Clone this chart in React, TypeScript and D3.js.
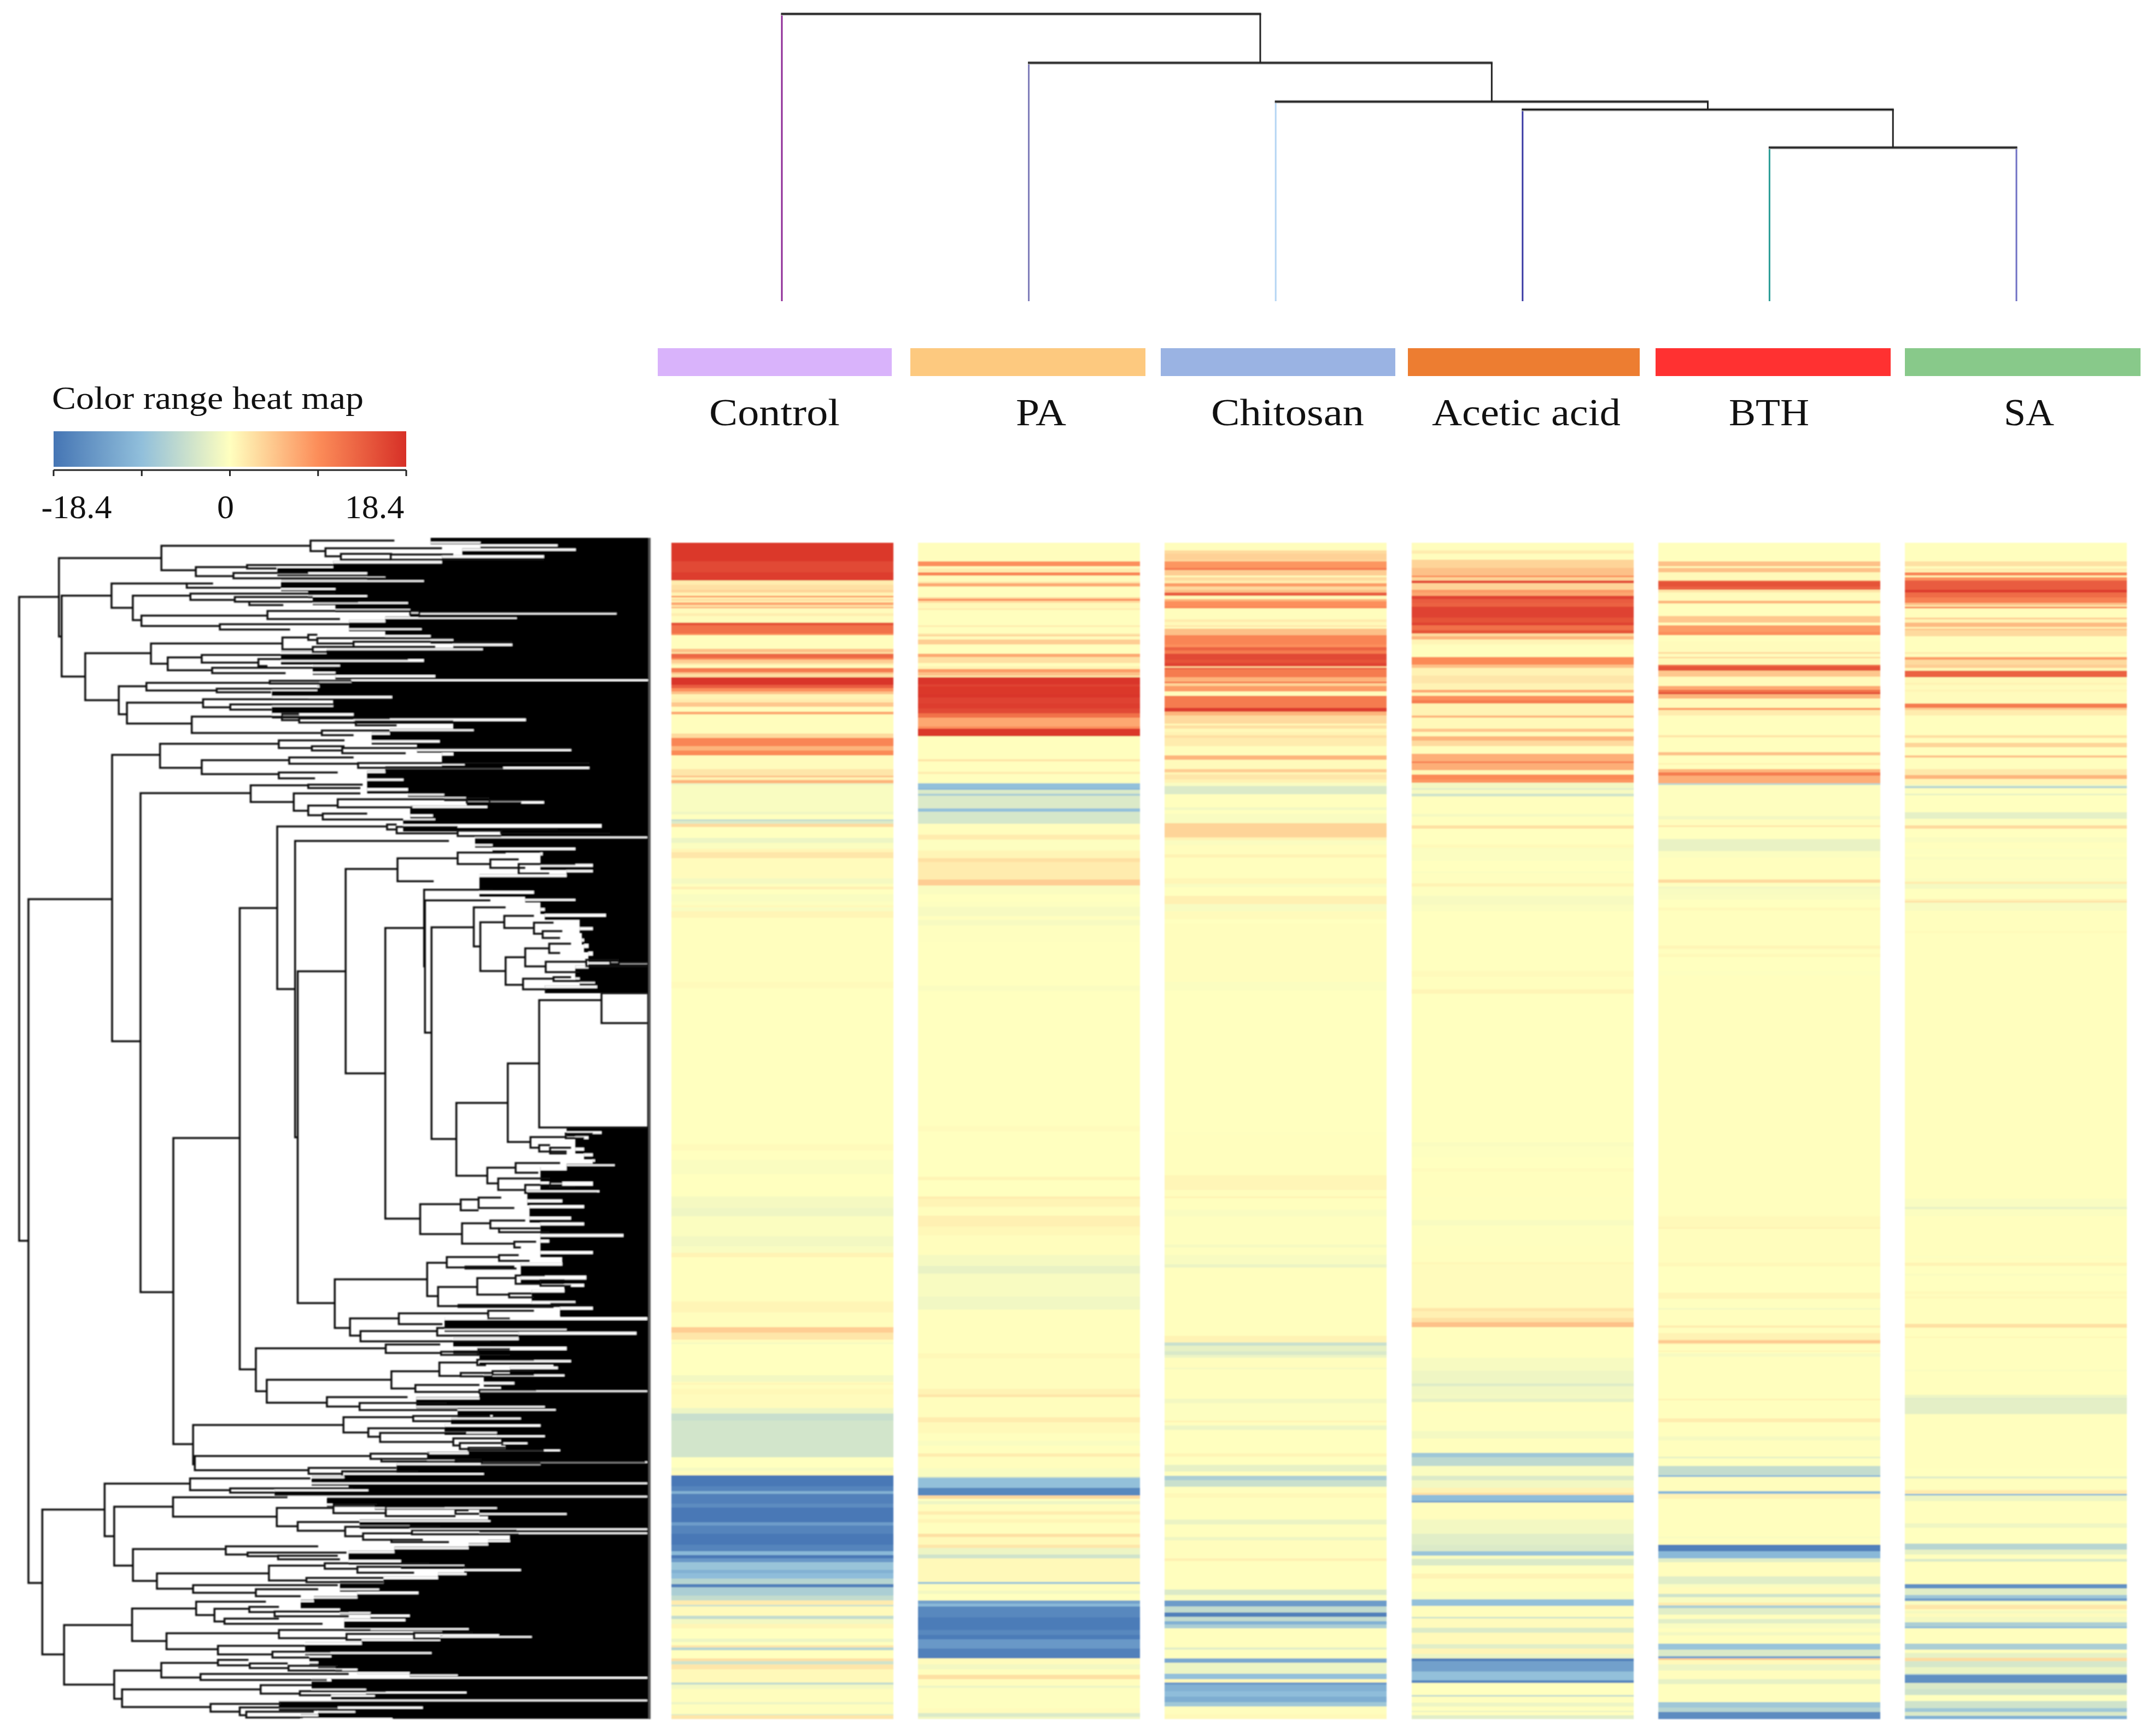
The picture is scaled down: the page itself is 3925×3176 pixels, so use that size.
import React, { useMemo } from "react";
import * as d3 from "d3";

// ---------- Treatments ----------
const treatments = ["Control", "PA", "Chitosan", "Acetic acid", "BTH", "SA"];
const barColors = ["#d9b3fb", "#fdc97f", "#9ab3e3", "#ed7d31", "#ff3131", "#88c98a"];
const barSpans = [[1203, 1631], [1665, 2095], [2123, 2552], [2575, 2999], [3028, 3458], [3484, 3915]];
const labelSpans = [[1297, 239], [1858, 92], [2215, 280], [2619, 345], [3162, 147], [3665, 92]];
const stemColors = ["#8e2a96", "#7d7bb8", "#b5d5f4", "#3b3ba4", "#2a9c96", "#6f70c4"];
const mergeHeights = [525.5, 436, 365, 350.5, 281]; // root first
const legendTicks = [-18.4, -9.2, 0, 9.2, 18.4];
const legendLabels = [-18.4, 0, 18.4];
const heatStops = ["#4575b4", "#91bfdb", "#ffffbf", "#fc8d59", "#d73027"];
const ROWS = 753;

// ---------- Heat map values: [first row of band, value] ----------
const controlBands: number[][] = [
[0,17.5],[12,16],[19,17],[24,1.5],[27,2.5],[30,3.5],[32,1],[34,8],[35,1],[36,3],[37,1],[38,7],[40,2],[41,5.5],[42,0.3],[45,1.5],[47,0.3],[51,15],[53,12],[58,9],[59,0.2],[68,5],[70,2.5],[71,13],[74,9],[75,4],[77,2],[78,0.3],[80,11],[83,5],[84,2.5],[86,18],[91,14],[93,9],[95,5],[97,1],[100,1.5],[102,4.5],[105,0.2],[108,7],[110,0.2],[122,3],[125,10],[130,6],[133,9.5],[136,0.3],[145,2],[149,5],[150,1],[152,6],[154,-1.5],[155,-0.5],[172,-1.2],[174,0],[177,-5],[178,-3],[180,3],[182,0],
[189,-1.5],[192,-0.3],[196,0.8],[198,2],[202,0.3],[215,-0.8],[218.5,0.1],[220,1.2],[222,0],[225,-0.5],[230,-0.2],[232,0.5],[233.5,-0.5],[236,0.8],[240,0.1],[281,0.4],[285,0],
[385,0.4],[389,0],[395,-0.4],[404,0],[418.5,-0.8],[426,-1.3],[431,-0.3],[444,-1],[450.5,-0.5],[454.6,1],[457.5,0.1],[485.5,0.8],[492.5,0.2],[502,4],[505.5,2],[510,0.2],[512,-0.8],[513,0],[533,-1],[537,0.3],[538,1],[539,0.2],[541.5,0.6],[545,0.3],
[554,-1.5],[557.5,-4.6],[562,-3.8],[585.5,0],[592,-0.8],[594,0.3],[597,-18],[604,-16.5],[607,-11],[609,-17],[615,-15.5],[617.6,-18],[627,-13.5],[629,-16.5],[634.5,-18],[641.5,-16.5],[645.6,-10],[648,-18],[650,-14],[652.6,-8.5],[657.5,-11],[659.6,-9.5],[663,-6],[666.5,-17],[668.7,-7],[674,-5],[677,1.5],[680,-4.5],[681,0.4],[687,-5],[689,-1],[692,0.8],[695,0],[701.5,-1.5],[703.6,0],[705.7,2],[707,-6],[709,0],[714,2.5],[716,-4],[718,2],[721,0.5],[729.5,-5],[731,-1],[733.6,0.2],[742,-1.5],[743.5,0.1],[749.7,-3],[750.7,2],
];
const paBands: number[][] = [
[0,0.2],[12,9],[15,0.3],[16.5,1.5],[18.5,0.3],[19,10],[21,0.3],[25,2],[26,7],[28,0.1],[35,4],[36,10],[37,3],[38.5,0.5],[42,1.5],[43,0.1],[53,1.5],[54,0.1],[58,2],[59,4],[60,0.3],[62,4],[65,0.1],[71,7],[73,2.5],[77,0.2],[79,1],[81,8],[83,5],[85,2],[86,18],[90.5,16.5],[92,17.5],[97,17.8],[99,16.5],[103,17],[106,16],[109,12],[112,7],[117.5,9],[119,17.5],[124,0.1],[138.5,2],[140,0.1],[146.5,1.5],[148,0.1],[152.5,-0.3],[154,-9],[157,-10],[158,-3],[160.7,-7],[162,-3],[170,-9],[172,-3.5],[180,0.2],
[187,1.5],[190,-0.2],[197,0.8],[202,2.5],[204.5,1.5],[215.5,4],[219.5,-0.4],[225,0],[230,-0.2],[233,-0.7],[239,0.1],[241.5,-0.7],[245,-0.1],[256,0],[283.5,-0.4],[287,0],
[373.5,0.3],[377,0],[406,0.9],[408,0],[418.5,1.5],[420,0.9],[425,0.2],[430.7,1.2],[437.7,0.6],[443.5,0.2],[456,-0.8],[463,-1.8],[468,-0.6],[482.6,-1.2],[491,0.1],[519,0.6],[522,0.2],[541.5,1],[545,2],
[547,0.2],[559.7,1.5],[563,0.5],[570,0.1],[575,-0.5],[578,0.1],[583,1.5],[585,0.2],[592.5,-0.5],[598,-5],[598.8,-9],[605,-16],[610,3],[612,0],[613.5,-1.5],[615.6,0.2],[620,1.5],[622,0.2],[625,0.8],[627.5,0.1],[634.5,2.5],[636.5,0.5],[641.4,2],[643.5,-1.5],[647.7,-4],[650,0.5],[665,-8],[666.5,0.2],[670.7,-1],[673,0],[677,-13],[679,-10],[681,-16],[688,-17.5],[696,-16],[699,-17.5],[702,-14],[708,-17],[714,0.3],[718,-1],[721,0.1],[724.6,2.5],[727.3,0.2],[731.5,-1.5],[733,-0.1],[746,0.3],[749,-3],[751.5,-1],
];
const chitosanBands: number[][] = [
[0,0.2],[5,3],[7,3.7],[11,3],[12,8.5],[16,11],[17.5,4],[21,0.3],[22,3],[24,1.5],[26,8],[28,3],[30,5],[32,14],[34,0.3],[36,6],[37.5,9],[41,10],[42,0.2],[49,1.5],[50.6,0.5],[53,2],[54,0.2],[55,5],[59,10],[65,9],[67,13.5],[69,11],[71,16],[75,15],[77,16.5],[79,4],[80,16],[81,11],[86,6],[89,11],[90,3.5],[91.6,8],[95,0.2],[98,11],[105.6,17],[108,6],[110.7,3],[115.7,0.5],[117,2.5],[119,0.5],[121,1],[123,2.5],[125,1.5],[130,0.2],[136,6],[139,0.4],[145,4],[147,0.8],[148.5,2],[151.6,1],[153.7,-0.5],[155.7,-3],[161,0.1],[169.5,-1],[171,0],[173.5,-0.5],[179.5,3.5],
[188.5,1],[190.4,-0.4],[193.5,0.2],[199.5,1],[201.6,0.1],[215,0.7],[218.5,-0.5],[220.4,0],[226,1.2],[231.4,-0.6],[236,0.4],[241,0],[243.5,0.15],[281,-0.3],[286.6,0],
[377,-0.1],[379.3,0.1],[405,0.7],[414.3,0.2],[418.4,1],[419.6,0.1],[427,-0.5],[431,-0.1],[449.4,-0.8],[451,-0.1],[456,-0.6],[462,-1.6],[464,0.1],[507.7,1],[512,-4.5],[514,-2],[517.6,-3.2],[520,-1.5],[521.7,0.2],[528,-0.8],[529,0.1],
[548,-1],[550.6,-0.2],[562,1],[563,0.1],[565,-1.5],[568,0],[583,0.8],[585,0],[590.4,-2],[594.6,0.1],[597.4,-7],[600,-4.5],[604.4,0.1],[608.6,0.6],[611.4,0.1],[625.3,-1.7],[628.4,0.1],[636.5,-1.3],[638.6,0.2],[650,1.2],[652,0.1],[670,-3],[673.5,-0.3],[677,-13.5],[681,-5],[684.7,-17],[687.5,-5],[690.3,-11],[692.5,-7],[695,0.1],[707,-2.5],[708.5,-0.1],[714.3,-12],[717,-1.5],[724,-9],[727.3,0.5],[729.4,-14],[731,-11],[735,-9.5],[738.5,-11.5],[742,-8],[745,0.2],[749.7,0.5],
];
const aceticBands: number[][] = [
[0,0.2],[5,1.5],[7,0.2],[11,3.5],[16,5],[21,9],[22,3.5],[24,15.5],[26,3.5],[30,8],[32,7],[34,16.5],[36,14],[38.5,13.5],[41,16.5],[48,15],[51,16.5],[53,12],[56,15],[58,3],[60,6],[62,0.8],[65,0.1],[73,9.5],[78,5],[80,1],[85,2],[90,1],[94,7],[96,0.8],[98,9],[100.7,11],[103,1],[110.7,6],[112,0.5],[119,4.5],[121,0.3],[124,6],[126.6,3],[130,0.2],[135,6.5],[140,10.5],[141,6.5],[145.4,0.5],[148.5,9.5],[151.6,8.5],[153.7,-1],[157,-2.5],[158,-0.7],[160.7,-4],[162.5,0.1],[173.5,-0.8],[175.4,0.1],[181,2.5],
[183,0],[193,0.5],[195.4,-0.3],[203.5,0],[210.4,-0.3],[211.6,-0.1],[218,1],[220,-0.1],[226,-0.7],[231.6,-0.3],[236,0],[274,0.4],[278,0.1],[286,0.8],[288.5,0],
[384,-0.4],[386.4,-0.2],[393.3,0],[400.3,0.3],[402.7,0.1],[418.4,-0.1],[421.4,0.1],[433.6,-0.6],[437,-0.1],[450.5,0.1],[460.4,0.6],[462,0.3],[490,2],[492,1.2],[496,2.5],[499,5],[502,0.1],[521.7,-0.7],[530,-1.3],[538,-2.8],[540,-1.2],[545,-1],[548,-2],[550,0.1],[555.5,-0.1],
[568.7,-0.9],[573.6,0.1],[582.7,-8],[585.5,-5.5],[591,-0.4],[597.4,-3],[600,-1],[605,1],[608,2.5],[609.5,-9.5],[613.5,-13],[614.6,0.2],[625.3,-1],[634.4,-2.5],[641.4,-3],[645.6,-8.5],[648.4,-0.5],[650.5,-3],[654.7,0],[660,1],[663,0.1],[671.5,-0.5],[676.3,-9],[680.5,0.2],[687.5,-4],[688.6,0.3],[694.5,-3],[697.6,0.5],[705,-2.5],[707.8,0.8],[711.3,-1.5],[714.3,-17],[716,-13],[722.4,-9],[728.3,-16],[730,0],[737.5,-5],[738.5,0.1],[742.5,-1.5],[744.8,0],[747.6,-2],[748.6,0.1],[750.4,-2.5],
];
const bthBands: number[][] = [
[0,0.1],[12,5],[15,0.3],[16,5],[19,0.5],[24,12],[25,15],[28,13.5],[30,2],[32,0.3],[37,6],[39,0.1],[47,4.5],[51,0.3],[53,8],[57,9],[59,0.1],[63,0.3],[70,3],[71,0.3],[73,4],[74,0.5],[78,12],[79,15],[82,4.5],[85.7,0.3],[91.6,7],[94,12],[96,16],[97,6],[99.7,0.4],[105.7,8],[107,1.5],[110.7,0.1],[123,2],[124.5,0.1],[134,5],[136,0.1],[141,1],[142,0.1],[145,6],[147,11],[149,6.5],[154,-6],[155,-0.1],[175,-1],[177,0.2],[181,2],[182,0],
[189.5,-1.8],[197.5,-0.3],[201.6,0.1],[215.4,3],[217.5,-0.2],[220,-1],[221.6,-0.6],[225.4,-0.4],[228.5,0],[233.5,0.5],[235.4,0.1],[258,0.8],[260,0.1],[263,0.5],[265.4,0],[274,-0.2],[277,0.05],
[431,0.5],[438,1],[439,0.2],[461,0.6],[463.3,0],[480,0.8],[484,-0.1],[490,-1],[491,0.1],[501,1.5],[502.5,0.1],[506,1],[510,3],[511,4.5],[512.3,2],[513,0.1],[517,1],[518,0.1],[519,-0.7],[521,0.1],
[548,1],[549,0.1],[560.4,1.5],[563,0.1],[572,-0.8],[574.6,0.1],[585,-2],[586,0],[591,-5],[597,-10],[598,0.2],[607,-10],[609,1],[612,0.1],[636,-0.5],[637.2,0.1],[641.4,-17],[645.6,-10],[650,-2.5],[652.6,0.2],[661.7,-2.5],[666.6,-0.5],[668.7,0.3],[673,-4],[675,-0.5],[678.4,1.5],[680.3,-7],[682,-2.5],[686,0.1],[689,-2.5],[691.7,-0.5],[695,0.1],[697.3,-1],[699.4,0.1],[704.6,-8.5],[708.5,-3],[712.7,-13],[714,4],[715.2,0.5],[718,-1.5],[721.7,0.2],[727.3,-2],[730.6,0.1],[742.3,-8],[745.5,-6],[748.3,-15.5],
];
const saBands: number[][] = [
[0,0.1],[12,2.5],[15,0.2],[16.5,1.5],[18.3,0.2],[19,10],[21,0.5],[22,9],[24,14],[30,17],[32,12.5],[35,10.5],[38.5,5],[40,2],[41,10],[42,0.2],[48,4],[49,1],[51,5.5],[54,1],[55,4.5],[56,3],[60,0.1],[70,1.5],[71,0.3],[73,8],[75,3],[78,4],[80,0.6],[82,13.5],[86,0.5],[89.6,1],[91,0.3],[94,1],[95,0.3],[103,11],[105.7,4],[107,1.5],[110.7,0.1],[123,2.5],[125,0.1],[128,3.5],[131,0.1],[136,5],[137.5,0.1],[145,1.8],[148.7,6],[151,0.8],[154.5,-1],[155.7,-6],[157,-0.1],[160.7,-2],[161.7,0],[172.5,-2.2],[176.6,-0.1],[181,3],
[183,0],[188.5,-0.4],[191.6,0.1],[196,-0.2],[199.8,0],[201,-0.4],[203,-0.1],[215,-0.3],[217,1.5],[218.5,-0.8],[221.6,0],[228,1.2],[229.5,3],[230.4,-0.6],[235.4,0.1],[248.5,0.4],[250,0.05],
[396,0.1],[407.3,0.05],[420,-0.5],[425,-1.8],[426.6,-0.3],[431,0.05],[456.3,-0.2],[458,0.05],[461,1],[463,0],[468,-0.4],[469.2,0],[479,0.5],[481,0.05],[482,0.5],[484,0.05],[500,2.5],[502.5,0.1],[508,0.6],[509,0.1],[529.3,-0.4],[530.5,0.1],[545.6,-1.5],[547.5,-3.5],
[548,-2.3],[557.6,0.1],[592.5,0],[597.8,-2.5],[599,0.1],[606.5,1.5],[608.7,-10],[610,-1.5],[613.5,0.1],[627.7,-1.3],[630.5,0],[640.7,-6],[644.5,-2],[647.7,0.1],[650.5,-3],[652.3,0.1],[666.6,-15],[669.4,-2.5],[673.5,-8],[675.6,-13],[677.4,-0.5],[680,2],[682.6,0.2],[683.6,-0.8],[685.4,0.3],[687.5,-0.8],[691,-7],[693.8,-10],[695,0.1],[704.6,-7],[708.5,0.1],[710.6,-2],[713.8,2.8],[716,-3.5],[719.7,-1.5],[724,-6],[724.5,-15],[730,-3],[733.6,-4],[737.5,0],[741.3,-4],[746,-8],[748.3,-3],[751,-11],
];
const columns = [controlBands, paBands, chitosanBands, aceticBands, bthBands, saBands];

// ---------- Row dendrogram: [stem position, top rank, top child position, bottom rank, bottom child position] ----------
const trunkBrackets: number[][] = [
[35,1092,108,2270,52],[52,1645,205,2896,77],[205,1381,293,1905,257],[257,1451,458,2364,317],[317,2082,438,2642,353],
];
const upperBrackets: number[][] = [
[130,660,356,885,136],[136,768,246,1000,188],[356,625,685,695,432],[685,610,870,640,718],[718,632,975,655,752],[752,648,865,665,862],[862,650,1000,665,1200],
[432,686,545,712,515],[545,680,735,690,610],[515,703,680,718,850],[246,733,412,803,293],[412,733,470,745,620],[293,768,420,838,312],[420,762,740,780,518],[518,772,690,785,550],[550,785,790,795,625],
[312,825,590,855,485],[590,812,905,835,750],[905,812,925,822,925],[925,815,1360,828,1140],[485,850,770,865,640],
[188,933,333,1068,262],[333,905,623,963,370],[623,888,680,922,690],[680,880,700,895,700],[700,890,1000,905,780],[690,915,780,930,720],[780,900,1130,915,960],[370,945,445,982,468],[445,938,690,960,570],[570,950,900,970,590],[468,975,740,990,630],
[262,1028,323,1108,280],[323,1018,595,1040,478],[595,1012,775,1020,775],[478,1035,700,1045,598],[280,1075,448,1135,423],[448,1065,680,1088,508],[508,1080,735,1095,600],[423,1115,622,1162,710],[622,1108,660,1125,660],[660,1120,860,1132,785],[785,1128,1000,1140,875],[710,1155,860,1168,780],
[353,1193,615,1262,445],[615,1183,760,1205,688],[688,1200,760,1212,755],[755,1205,1260,1220,895],[445,1240,638,1280,615],[638,1232,780,1250,790],[790,1248,1300,1262,1110],[615,1275,745,1292,695],
[553,1312,680,1360,648],[680,1310,800,1320,795],[648,1335,795,1385,680],[680,1370,745,1398,712],[745,1352,1030,1375,910],[1030,1348,1080,1362,1080],[1080,1355,1200,1362,1150],[712,1393,810,1410,890],
];
const middleBrackets: number[][] = [
[550,230,636,1433,587],[636,17,888,441,677],[888,12,910,25,910],[910,18,1050,35,1050],[1050,28,1150,42,1150],[1150,25,1280,35,1400],
[677,55,1030,828,683],[683,395,793,1260,768],[793,128,912,661,884],[912,100,1050,160,995],[1050,85,1160,115,1125],[1125,103,1190,125,1205],[1190,115,1320,140,1260],
[884,282,973,1040,964],[973,182,1130,382,975],[975,210,1125,555,990],[990,280,1087,832,1047],
[1087,228,1160,330,1102],[1102,267,1157,394,1160],[1157,250,1225,282,1225],[1225,268,1270,297,1245],[1245,290,1290,308,1285],[1160,358,1205,430,1200],[1205,335,1260,382,1252],[1260,323,1310,347,1285],[1252,370,1345,397,1330],[1345,365,1400,382,1485],[1400,365,1420,375,1420],[1420,372,1485,380,1485],[1200,414,1270,442,1255],[1270,410,1310,420,1365],
[1047,738,1165,928,1118],[1165,635,1237,840,1217],[1237,470,1380,802,1485],[1380,452,1485,530,1485],[1217,827,1298,855,1237],[1298,818,1360,830,1340],[1237,848,1262,865,1300],[1262,855,1310,870,1300],[1118,907,1183,948,1143],[1183,895,1285,920,1235],[1143,935,1262,965,1205],[1205,952,1290,973,1370],[1262,945,1290,957,1320],
[964,1002,1057,1080,1060],[1057,990,1098,1018,1098],[1098,985,1150,1012,1180],[1060,1052,1125,1105,1180],[1125,1045,1205,1065,1145],[1145,1065,1240,1075,1260],[1180,1100,1230,1115,1195],
[768,1198,980,1325,803],[980,1155,1025,1242,1005],[1025,1140,1145,1167,1068],[1145,1135,1190,1150,1215],[1068,1165,1180,1170,1185],[1005,1218,1095,1268,1052],[1095,1195,1183,1238,1168],[1183,1188,1250,1210,1240],[1240,1200,1295,1215,1310],[1168,1235,1220,1245,1225],[1052,1265,1265,1270,1270],[1265,1262,1320,1267,1360],
[803,1300,915,1345,827],[915,1287,1120,1315,1015],[1120,1280,1225,1300,1170],[827,1333,1003,1360,1125],[1003,1325,1300,1345,1190],
[587,1378,885,1490,612],[885,1368,1010,1390,1012],[1012,1387,1097,1395,1097],[1097,1380,1170,1395,1170],[612,1460,898,1520,750],[898,1438,1008,1483,953],[1008,1415,1095,1450,1057],[1095,1408,1225,1422,1115],
];
const lowerBrackets: number[][] = [
[1057,27,1130,42,1130],[1130,20,1225,35,1225],[953,78,1100,108,1100],[1100,100,1230,112,1485],[750,130,935,170,825],[825,155,1025,185,1050],
[443,248,788,415,447],[788,215,948,280,845],[948,210,1125,232,1035],[845,262,1020,298,872],[872,282,1070,320,1040],[1040,305,1150,335,1055],[1055,325,1155,350,1075],[1075,345,1160,355,1248],
[447,380,850,440,708],[850,370,985,392,875],[875,392,1045,403,1105],[1045,395,1105,405,1105],[1105,403,1480,412,1240],[708,430,910,455,785],[785,445,960,462,785],
[97,607,240,1222,147],[240,497,436,720,262],[436,475,712,525,528],[528,517,810,535,630],
[262,595,397,845,305],[397,555,660,637,635],[635,600,765,678,683],[765,585,865,622,885],[885,595,1020,635,1045],[1045,610,1075,625,1100],[683,660,825,697,792],[792,680,1010,720,833],[833,708,945,735,898],[945,695,1185,712,1190],[898,735,970,745,1030],
[305,775,518,910,360],[518,763,730,798,568],[568,790,795,805,638],[638,803,775,818,780],
[360,878,617,943,443],[617,845,745,908,703],[745,835,985,858,820],[820,850,1070,875,950],[703,897,880,915,880],[443,928,775,960,587],[587,945,730,975,690],
[147,1097,303,1350,262],[303,1027,450,1165,382],[450,998,610,1055,492],[492,1028,572,1082,515],[572,1020,640,1042,630],[630,1040,800,1060,800],[515,1070,640,1092,740],[382,1132,640,1200,500],[640,1118,850,1153,795],[795,1135,950,1160,830],[950,1130,1085,1155,1010],[500,1185,705,1222,625],[625,1210,758,1235,710],
[262,1290,370,1410,280],[370,1258,500,1320,460],[500,1245,570,1268,573],[573,1260,660,1280,662],[662,1270,775,1290,785],[460,1305,800,1330,750],
[280,1370,598,1445,483],[598,1352,715,1388,688],[688,1378,885,1395,760],[483,1432,645,1465,550],[550,1447,775,1480,565],[565,1465,720,1490,695],
];

// Where the dense leaf mass begins: [rank, position]
const upperEdge: number[][] = [
[602,950],[612,1060],[620,1230],[632,1270],[645,1020],[652,1200],[668,975],[682,735],[690,612],[700,810],[712,850],[722,935],[730,620],[745,740],[755,680],[765,810],[775,690],[785,900],[795,740],[805,905],[815,1360],[828,1140],[838,850],[850,770],[860,930],[870,850],[880,950],[892,1000],[905,1130],[918,1065],[928,720],[940,620],[950,935],[965,750],[975,690],[985,740],[995,960],[1008,1430],[1013,775],[1025,705],[1035,700],[1045,600],[1055,865],[1068,735],[1080,735],[1092,600],[1105,780],[1120,1160],[1135,1000],[1150,1045],[1160,860],[1172,820],[1182,970],[1195,920],[1207,1260],[1218,1000],[1235,975],[1248,1025],[1258,1300],[1270,850],[1282,810],[1292,890],[1305,810],[1320,900],[1335,980],[1345,1030],[1357,1200],[1370,1075],[1382,905],[1395,955],[1408,960],
];
const middleEdge: number[][] = [
[0,925],[12,1380],[30,1150],[42,1485],[50,1090],[62,1130],[72,1320],[85,1245],[100,1240],[115,1360],[130,1360],[142,1300],[155,1100],[185,1225],[200,1205],[205,1320],[215,1240],[230,1250],[245,1390],[260,1330],[280,1360],[295,1335],[310,1340],[325,1350],[345,1360],[370,1485],[380,1350],[395,1320],[410,1330],[420,1365],[432,1370],[445,1250],[452,1485],[800,1300],[812,1380],[825,1350],[840,1320],[855,1340],[870,1360],[885,1365],[897,1410],[905,1300],[925,1240],[945,1360],[965,1375],[975,1210],[990,1290],[1005,1340],[1020,1215],[1035,1310],[1050,1340],[1065,1240],[1080,1430],[1095,1260],[1110,1240],[1125,1360],[1140,1290],[1155,1290],[1170,1195],[1190,1345],[1210,1340],[1225,1295],[1240,1220],[1255,1320],[1270,1360],[1285,1285],[1297,1485],[1312,1020],[1325,1300],[1335,1460],[1350,1190],[1362,1040],[1375,1300],[1392,1100],[1408,1310],[1420,1270],
];
const lowerEdge: number[][] = [
[0,1280],[20,1170],[32,1295],[48,1110],[65,1180],[85,1150],[100,1485],[118,1100],[130,1100],[145,955],[165,1250],[178,1275],[190,1050],[205,1130],[215,1195],[230,1035],[245,1240],[265,1020],[275,1140],[290,1250],[305,1150],[320,1210],[335,1160],[350,1285],[362,1075],[380,980],[395,1050],[403,1485],[409,1240],[425,910],[450,1110],[465,790],[480,715],[490,1485],[505,800],[520,845],[535,630],[550,1485],[554,750],[580,860],[595,1140],[608,1100],[620,1300],[635,1120],[650,1125],[662,825],[672,940],[688,1485],[693,1100],[705,1485],[710,1170],[735,1170],[750,1120],[765,1075],[782,905],[800,800],[820,920],[840,1065],[858,1195],[875,1070],[892,1005],[910,880],[928,780],[940,870],[955,960],[975,820],[990,720],[1005,690],[1025,780],[1040,850],[1052,940],[1070,930],[1090,790],[1108,1075],[1122,1015],[1138,1145],[1142,1220],[1155,1010],[1170,830],[1190,700],[1210,990],[1225,760],[1240,710],[1250,730],[1265,770],[1280,820],[1295,940],[1305,1050],[1318,1485],[1324,760],[1350,715],[1365,840],[1378,1070],[1392,860],[1405,760],[1415,1485],[1420,640],[1442,970],[1460,815],[1475,730],[1490,690],[1495,900],
];

const W = 3925, H = 3176;
const serif = "'Liberation Serif', serif";

const color = d3.scaleLinear<string>().domain(legendTicks).range(heatStops).interpolate(d3.interpolateRgb);
const rowY = d3.scaleLinear().domain([0, ROWS]).range([993, 3145]);
const colX = d3.scaleBand<number>().domain(d3.range(6)).range([1228, 3890]).paddingInner(0.1002).paddingOuter(0);
const leafX = d3.scalePoint<string>().domain(treatments).range([1430, 3688]);
const treeY = d3.scaleLinear().domain([0, 551]).range([551, 0]);
const legendX = d3.scaleLinear().domain([-18.4, 18.4]).range([98, 743]);

type Sec = { x: d3.ScaleLinear<number, number>; y: d3.ScaleLinear<number, number> };
const trunkSec: Sec = { x: d3.scaleLinear().domain([0, 1]).range([0, 1]), y: d3.scaleLinear().domain([0, 1]).range([0, 1]) };
const upperSec: Sec = { x: d3.scaleLinear().domain([0, 1568]).range([0, 1300]), y: d3.scaleLinear().domain([0, 1568]).range([600, 1600]) };
const middleSec: Sec = { x: d3.scaleLinear().domain([0, 1568]).range([0, 1250]), y: d3.scaleLinear().domain([0, 1568]).range([1500, 2600]) };
const lowerSec: Sec = { x: d3.scaleLinear().domain([0, 1568]).range([0, 1250]), y: d3.scaleLinear().domain([0, 1568]).range([2500, 3176]) };

function bracketPath(b: number[], s: Sec) {
  const p = d3.path();
  const [x, y0, x0, y1, x1] = b;
  p.moveTo(s.x(x0), s.y(y0));
  p.lineTo(s.x(x), s.y(y0));
  p.lineTo(s.x(x), s.y(y1));
  p.lineTo(s.x(x1), s.y(y1));
  return p.toString();
}

export default function App() {
  const { massPath, slits } = useMemo(() => {
    const toPts = (e: number[][], s: Sec) => e.map(([y, x]) => [s.y(y), s.x(x)] as [number, number]);
    const pts = [...toPts(upperEdge, upperSec), ...toPts(middleEdge, middleSec), ...toPts(lowerEdge, lowerSec)];
    const isOpen = (i: number) => i + 1 < pts.length && pts[i + 1][0] - pts[i][0] > 100;
    const envelope = pts.map((p, i) => {
      if (isOpen(i)) return p;
      const near = [pts[Math.max(0, i - 1)], p, pts[Math.min(pts.length - 1, i + 1)]].map((q) => q[1]);
      return [p[0], d3.min(near)!] as [number, number];
    });
    const slitLines = pts
      .map((p, i) => {
        const gap = i + 1 < pts.length ? pts[i + 1][0] - p[0] : 0;
        return { y: p[0] + Math.min(gap, 5) / 2, x0: envelope[i][1], x1: p[1], w: Math.max(3, Math.min(gap * 0.5, 7)) };
      })
      .filter((s, i) => !isOpen(i) && s.x1 - s.x0 > 2);
    const area = d3.area<[number, number]>().y((d) => d[0]).x0((d) => d[1]).x1(1188).curve(d3.curveStepBefore);
    return { massPath: area(envelope) ?? "", slits: slitLines };
  }, []);

  const merges = useMemo(() => {
    const out: { x0: number; x1: number; h: number }[] = [];
    let cx = leafX(treatments[5])!;
    for (let i = 4; i >= 0; i--) {
      const lx = leafX(treatments[i])!;
      out.push({ x0: lx, x1: cx, h: mergeHeights[i] });
      cx = (lx + cx) / 2;
    }
    return out.reverse();
  }, []);

  return (
    <svg width={W} height={H} viewBox={`0 0 ${W} ${H}`} style={{ position: "absolute", left: 0, top: 0, background: "#fff" }} fontFamily={serif}>
      <defs>
        <linearGradient id="legendGrad" x1="0" x2="1" y1="0" y2="0">
          {legendTicks.map((t, i) => (
            <stop key={t} offset={i / 4} stopColor={heatStops[i]} />
          ))}
        </linearGradient>
        <filter id="soft" x="-1%" y="-1%" width="102%" height="102%">
          <feGaussianBlur stdDeviation="0.9" />
        </filter>
      </defs>

      {/* column dendrogram */}
      <g>
        {treatments.map((t, i) => {
          const h = i === 5 ? mergeHeights[4] : mergeHeights[i];
          return <line key={t} x1={leafX(t)} x2={leafX(t)} y1={treeY(h)} y2={treeY(0)} stroke={stemColors[i]} strokeWidth={3} />;
        })}
        {merges.map((m, i) => (
          <g key={i}>
            <line x1={m.x0 - 1.5} x2={m.x1 + 1.5} y1={treeY(m.h)} y2={treeY(m.h)} stroke="#aaa" strokeWidth={6} />
            <line x1={m.x0 - 1.5} x2={m.x1 + 1.5} y1={treeY(m.h)} y2={treeY(m.h)} stroke="#222" strokeWidth={3} />
            {i > 0 && (
              <line x1={(m.x0 + m.x1) / 2} x2={(m.x0 + m.x1) / 2} y1={treeY(merges[i - 1].h)} y2={treeY(m.h)} stroke="#222" strokeWidth={3} />
            )}
          </g>
        ))}
      </g>

      {/* treatment bars + labels */}
      {treatments.map((t, i) => (
        <rect key={t} x={barSpans[i][0]} y={637} width={barSpans[i][1] - barSpans[i][0]} height={51} fill={barColors[i]} />
      ))}
      {treatments.map((t, i) => (
        <text key={t} x={labelSpans[i][0]} y={778} fontSize={70} fill="#111" textLength={labelSpans[i][1]} lengthAdjust="spacingAndGlyphs">
          {t}
        </text>
      ))}

      {/* legend */}
      <text x={95} y={748} fontSize={60} fill="#111" textLength={570} lengthAdjust="spacingAndGlyphs">Color range heat map</text>
      <rect x={legendX(-18.4)} y={789} width={legendX(18.4) - legendX(-18.4)} height={65} fill="url(#legendGrad)" />
      <line x1={legendX(-18.4)} x2={legendX(18.4)} y1={860} y2={860} stroke="#222" strokeWidth={3} />
      {legendTicks.map((t) => (
        <line key={t} x1={legendX(t)} x2={legendX(t)} y1={860} y2={871} stroke="#222" strokeWidth={3} />
      ))}
      {legendLabels.map((t, i) => (
        <text key={t} x={legendX(t) + [42, -8, -58][i]} y={948} fontSize={62} textAnchor="middle" fill="#111">
          {t}
        </text>
      ))}

      {/* row dendrogram */}
      <g filter="url(#soft)">
        <path d={massPath} fill="#000" />
        {slits.map((s, i) => (
          <line key={i} x1={s.x0} x2={s.x1} y1={s.y} y2={s.y} stroke="#fff" strokeWidth={s.w} />
        ))}
        <line x1={1188} x2={1188} y1={984} y2={3145} stroke="#555" strokeWidth={4} />
        <g fill="none" stroke="#111" strokeWidth={3.5}>
          {trunkBrackets.map((b, i) => <path key={"t" + i} d={bracketPath(b, trunkSec)} />)}
          {upperBrackets.map((b, i) => <path key={"u" + i} d={bracketPath(b, upperSec)} />)}
          {middleBrackets.map((b, i) => <path key={"m" + i} d={bracketPath(b, middleSec)} />)}
          {lowerBrackets.map((b, i) => <path key={"l" + i} d={bracketPath(b, lowerSec)} />)}
        </g>
      </g>

      {/* heat map */}
      <g filter="url(#soft)">
        {columns.map((bands, c) => {
          const sorted = [...bands].sort((a, b) => a[0] - b[0]);
          return (
            <g key={c} shapeRendering="crispEdges">
              <rect x={colX(c)} y={rowY(0)} width={colX.bandwidth()} height={rowY(ROWS) - rowY(0)} fill={color(0)} />
              {sorted.map(([r, v], i) => {
                const end = i + 1 < sorted.length ? sorted[i + 1][0] : ROWS;
                return <rect key={i} x={colX(c)} y={rowY(r)} width={colX.bandwidth()} height={Math.max(0, rowY(end) - rowY(r))} fill={color(v)} />;
              })}
            </g>
          );
        })}
      </g>
    </svg>
  );
}
